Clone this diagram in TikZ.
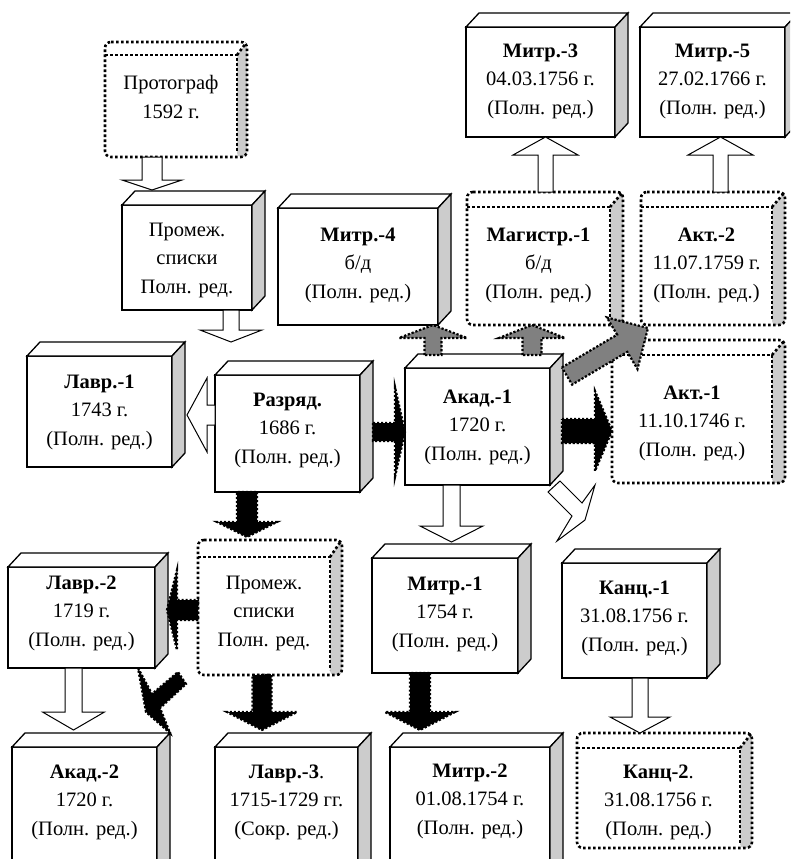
\documentclass[tikz,border=0pt]{standalone}
\usepackage{fontspec}
\setmainfont{Liberation Serif}
\usetikzlibrary{calc}
\definecolor{sidegray}{gray}{0.8}
\definecolor{arrgray}{gray}{0.5}
\tikzset{
 boxline/.style={line width=1.3pt, line join=miter},
 sideface/.style={boxline, fill=sidegray},
 dotline/.style={line width=2.6pt, dash pattern=on 2.6pt off 2.4pt},
 txt/.style={align=center, font=\fontsize{20.5}{28.5}\selectfont, inner sep=0pt},
 hollow/.style={draw=black, line width=1pt, fill=white, line join=miter},
 blackarr/.style={fill=black, draw=black, line width=2.2pt, dash pattern=on 2.2pt off 1.8pt},
 grayarr/.style={fill=arrgray, draw=black, line width=2.2pt, dash pattern=on 2.2pt off 1.8pt},
}
% solid 3D box: name, x1, y1, x2, y2, text y, text
\newcommand\cubebox[7]{%
 \node[draw, boxline, fill=white, minimum width={(#4-#2)*1pt}, minimum height={(#5-#3)*1pt},
   inner sep=0pt, outer sep=0pt, anchor=north west] (#1) at (#2,#3) {};
 \draw[boxline, fill=white] (#1.north west) -- ++(13,-14) -- ($(#1.north east)+(13,-14)$) -- (#1.north east) -- cycle;
 \draw[sideface] (#1.north east) -- ++(13,-14) -- ($(#1.south east)+(13,-14)$) -- (#1.south east) -- cycle;
 \node[txt] (#1-t) at ({(#2+#4)/2},{#6+3}) {#7};
}
% dotted 3D box: name, x1, y1, x2, y2, outer right, outer top, text y, text
\newcommand\dotbox[9]{%
 \node[minimum width={(#4-#2)*1pt}, minimum height={(#5-#3)*1pt},
   inner sep=0pt, outer sep=0pt, anchor=north west] (#1) at (#2,#3) {};
 \fill[white, rounded corners=6pt] (#2,#7) -- (#6,#7) -- (#6,#5) -- (#2,#5) -- cycle;
 \fill[sidegray, rounded corners=4pt] (#4,#3) -- (#6,#7) -- (#6,#5) -- (#4,#5) -- cycle;
 \draw[dotline, rounded corners=6pt] (#2,#7) -- (#6,#7) -- (#6,#5) -- (#2,#5) -- cycle;
 \draw[dotline] (#2,#3) -- (#4,#3) -- (#4,{#5-5});
 \draw[dotline] (#4,#3) -- ({#6-1},{#7+1});
 \node[txt] (#1-t) at ({(#2+#4)/2},{#8+3}) {#9};
}
% block arrow from (ba-a) to (ba-t): style, shaft half, head half, head length
\newcommand\polyarrow[4]{%
 \coordinate (ba-h) at ($(ba-t)!#4pt!(ba-a)$);
 \path[#1] ($(ba-a)!#2pt!90:(ba-t)$) -- ($(ba-h)!#2pt!90:(ba-t)$) -- ($(ba-h)!#3pt!90:(ba-t)$)
   -- (ba-t) -- ($(ba-h)!#3pt!-90:(ba-t)$) -- ($(ba-h)!#2pt!-90:(ba-t)$) -- ($(ba-a)!#2pt!-90:(ba-t)$) -- cycle;
}
\newcommand\varrow[6]{%
 \coordinate (ba-a) at (#2); \coordinate (ba-tt) at (#3); \coordinate (ba-t) at (ba-a |- ba-tt);
 \polyarrow{#1}{#4}{#5}{#6}}
\newcommand\harrow[6]{%
 \coordinate (ba-a) at (#2); \coordinate (ba-tt) at (#3); \coordinate (ba-t) at (ba-a -| ba-tt);
 \polyarrow{#1}{#4}{#5}{#6}}
\begin{document}
\begin{tikzpicture}[x=1pt,y=-1pt]
\useasboundingbox (0,0) rectangle (790,859);
\fill[white] (0,0) rectangle (790,859);
\clip (0,0) rectangle (790,859);

% boxes
\dotbox{proto}{105}{55}{237}{157}{247}{42}{94}{Протограф\\1592 г.}
\cubebox{prom1}{122}{205}{252}{310}{257}{Промеж.\\списки\\Полн. ред.}
\cubebox{mitr3}{466}{27}{615}{137}{78}{\textbf{Митр.-3}\\04.03.1756 г.\\(Полн. ред.)}
\cubebox{mitr5}{640}{27}{785}{137}{78}{\textbf{Митр.-5}\\27.02.1766 г.\\(Полн. ред.)}
\cubebox{mitr4}{278}{208}{438}{325}{262}{\textbf{Митр.-4}\\б/д\\(Полн. ред.)}
\dotbox{magistr}{467}{207}{610}{325}{623}{192}{262}{\textbf{Магистр.-1}\\б/д\\(Полн. ред.)}
\dotbox{akt2}{641}{207}{772}{325}{785}{192}{262}{\textbf{Акт.-2}\\11.07.1759 г.\\(Полн. ред.)}
\cubebox{lavr1}{27}{356}{172}{467}{409}{\textbf{Лавр.-1}\\1743 г.\\(Полн. ред.)}
\cubebox{razr}{215}{375}{360}{492}{427}{\textbf{Разряд.}\\1686 г.\\(Полн. ред.)}
\cubebox{akad1}{405}{368}{550}{485}{424}{\textbf{Акад.-1}\\1720 г.\\(Полн. ред.)}
\dotbox{akt1}{612}{355}{772}{483}{785}{340}{420}{\textbf{Акт.-1}\\11.10.1746 г.\\(Полн. ред.)}
\cubebox{lavr2}{8}{567}{155}{668}{610}{\textbf{Лавр.-2}\\1719 г.\\(Полн. ред.)}
\dotbox{prom2}{198}{557}{330}{675}{342}{540}{610}{Промеж.\\списки\\Полн. ред.}
\cubebox{mitr1}{372}{558}{518}{673}{611}{\textbf{Митр.-1}\\1754 г.\\(Полн. ред.)}
\cubebox{kanc1}{562}{563}{707}{678}{615}{\textbf{Канц.-1}\\31.08.1756 г.\\(Полн. ред.)}
\cubebox{akad2}{12}{747}{157}{900}{799}{\textbf{Акад.-2}\\1720 г.\\(Полн. ред.)}
\cubebox{lavr3}{215}{747}{358}{900}{799}{\textbf{Лавр.-3}.\\1715-1729 гг.\\(Сокр. ред.)}
\cubebox{mitr2}{390}{747}{550}{900}{798}{\textbf{Митр.-2}\\01.08.1754 г.\\(Полн. ред.)}
\dotbox{kanc2}{577}{748}{740}{848}{752}{733}{799}{\textbf{Канц-2}.\\31.08.1756 г.\\(Полн. ред.)}

% hollow arrows
\varrow{hollow}{$(proto.south)+(-19,0)$}{$(prom1.north)+(0,-15)$}{10}{30}{10}
\varrow{hollow}{$(prom1.south)+(44,0)$}{$(razr.north)+(0,-33)$}{8}{31}{12}
\harrow{hollow}{$(razr.west)+(0,-18.5)$}{$(lavr1.east)+(15,0)$}{10}{37}{20}
\varrow{hollow}{$(akad1.south)+(-26,0)$}{$(mitr1.north)+(0,-16)$}{8.5}{31.5}{16}
\varrow{hollow}{$(lavr2.south)+(-8,0)$}{$(akad2.north)+(0,-17)$}{8.5}{31}{18}
\varrow{hollow}{$(kanc1.south)+(5.5,0)$}{$(kanc2.north)+(0,-15)$}{8}{30}{16}
\varrow{hollow}{$(magistr.north)+(7,-15)$}{mitr3.south}{7.5}{32.5}{18}
\varrow{hollow}{$(akt2.north)+(14,-15)$}{mitr5.south}{7.5}{32.5}{18}
\path[hollow] ($(akad1.south east)+(-2,7)$) -- ($(akad1.south east)+(10,-4)$) -- (582,503) -- (595,485)
  -- (585,520) -- ($(kanc1.north west)+(-5,-22)$) -- (572,516) -- cycle;

% black arrows
\harrow{blackarr}{$(razr.east)+(13,-1.5)$}{akad1.west}{9}{45}{10}
\harrow{blackarr}{$(akad1.east)+(12,4.5)$}{akt1.west}{12}{40}{17}
\varrow{blackarr}{$(razr.south)+(-40.5,0)$}{$(prom2.north)+(0,-20)$}{10}{30}{15}
\harrow{blackarr}{$(prom2.west)+(0,-6)$}{$(lavr2.east)+(12,0)$}{10}{40}{10}
\varrow{blackarr}{$(prom2.south)+(-2,0)$}{$(lavr3.north)+(0,-17)$}{9.5}{35}{18}
\varrow{blackarr}{$(mitr1.south)+(-25,0)$}{$(mitr2.north)+(0,-17)$}{10}{35}{18}
\path[blackarr] (138,668) -- (152,694) -- ($(prom2.south west)+(-20,-3)$) -- (186,684) -- (160,708)
  -- ($(akad2.north east)+(13,-14)$) -- (146,712) -- cycle;

% gray arrows
\varrow{grayarr}{$(akad1.north)+(-44.5,-13)$}{mitr4.south}{8.5}{34}{13}
\varrow{grayarr}{$(akad1.north)+(54.5,-13)$}{magistr.south}{9.5}{33}{13}
\coordinate (ba-a) at ($(akad1.north east)+(17,8)$);
\coordinate (ba-t) at ($(akt2.south west)+(7,3)$);
\polyarrow{grayarr}{10}{30}{30}
\end{tikzpicture}
\end{document}
